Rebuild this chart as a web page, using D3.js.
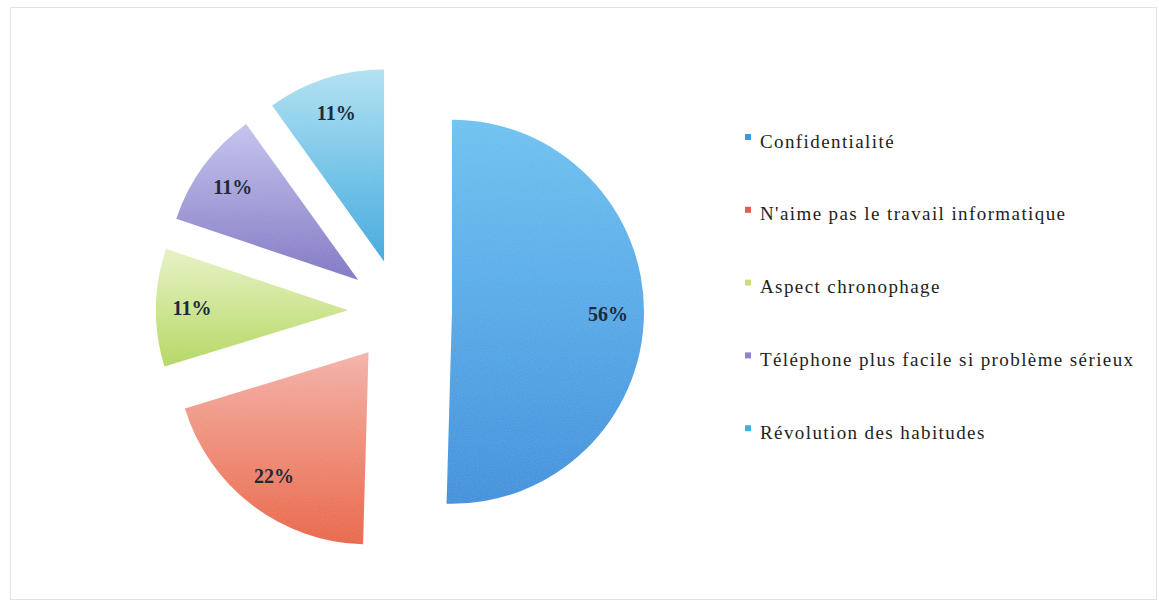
<!DOCTYPE html>
<html>
<head>
<meta charset="utf-8">
<script src="https://cdn.jsdelivr.net/npm/d3@7"></script>
<style>
  html, body { margin: 0; padding: 0; background: #ffffff; }
  svg { display: block; }
</style>
</head>
<body>
<svg id="chart" width="1159" height="608"></svg>
<script>
// ---- data ----
const categories = [
  "Confidentialité",
  "N'aime pas le travail informatique",
  "Aspect chronophage",
  "Téléphone plus facile si problème sérieux",
  "Révolution des habitudes"
];
const values = [56, 22, 11, 11, 11];
const valueLabels = ["56%", "22%", "11%", "11%", "11%"];

// ---- styles ----
const colorsTop    = ["#66c0f0", "#f4b0a6", "#e6f2c4", "#c2c2ec", "#b0e0f2"];
const colorsBottom = ["#2a8cdc", "#e85c36", "#b2d656", "#7a70c2", "#2ea6dc"];
const legendColors = ["#3a9ae0", "#e06050", "#c8e080", "#8c86c8", "#40b0e0"];

const svg = d3.select("#chart");

// frame
svg.append("rect")
  .attr("x", 10.5).attr("y", 7.5)
  .attr("width", 1146).attr("height", 592)
  .attr("fill", "#ffffff")
  .attr("stroke", "#e2e2e2").attr("stroke-width", 1);

// gradients
const defs = svg.append("defs");
categories.forEach((c, i) => {
  const g = defs.append("linearGradient")
    .attr("id", "grad" + i)
    .attr("x1", 0).attr("y1", 0).attr("x2", 0).attr("y2", 1);
  g.append("stop").attr("offset", "0%").attr("stop-color", colorsTop[i]);
  g.append("stop").attr("offset", "100%").attr("stop-color", colorsBottom[i]);
});

// grain filter
const f = defs.append("filter").attr("id", "grain")
  .attr("x", "0%").attr("y", "0%").attr("width", "100%").attr("height", "100%");
f.append("feTurbulence").attr("type", "fractalNoise").attr("baseFrequency", 0.9)
  .attr("numOctaves", 1).attr("seed", 3).attr("result", "noise");
f.append("feColorMatrix").attr("in", "noise").attr("type", "matrix")
  .attr("values", "0 0 0 0 1  0 0 0 0 1  0 0 0 0 1  0 0 0 0.10 0").attr("result", "wn");
f.append("feComposite").attr("in", "wn").attr("in2", "SourceGraphic").attr("operator", "in").attr("result", "wn2");
const fm = f.append("feMerge");
fm.append("feMergeNode").attr("in", "SourceGraphic");
fm.append("feMergeNode").attr("in", "wn2");

// pie
const cx = 400, cy = 311;
const radius = 192;
const explode = 52;
const labelR = 156;

const pie = d3.pie().sort(null).value(d => d)(values);
const arc = d3.arc().innerRadius(0).outerRadius(radius);

const g = svg.append("g").attr("transform", `translate(${cx},${cy})`);

const slices = g.selectAll("g.slice").data(pie).enter().append("g")
  .attr("class", "slice")
  .attr("transform", d => {
    const a = (d.startAngle + d.endAngle) / 2;
    return `translate(${Math.sin(a) * explode},${-Math.cos(a) * explode})`;
  });

slices.append("path")
  .attr("d", arc)
  .attr("fill", (d, i) => `url(#grad${i})`)
  .attr("filter", "url(#grain)");

slices.append("text")
  .attr("x", d => Math.sin((d.startAngle + d.endAngle) / 2) * labelR)
  .attr("y", d => -Math.cos((d.startAngle + d.endAngle) / 2) * labelR)
  .attr("text-anchor", "middle")
  .attr("dominant-baseline", "central")
  .attr("font-family", "'Liberation Serif', 'Times New Roman', serif")
  .attr("font-weight", "bold")
  .attr("font-size", 20)
  .attr("fill", "#1e2a3a")
  .text((d, i) => valueLabels[i]);

// legend
const legend = svg.append("g").attr("transform", "translate(745,141)");
const rowH = 72.8;
const items = legend.selectAll("g").data(categories).enter().append("g")
  .attr("transform", (d, i) => `translate(0,${i * rowH})`);
items.append("rect")
  .attr("x", 0).attr("y", -7).attr("width", 6).attr("height", 6)
  .attr("fill", (d, i) => legendColors[i]);
items.append("text")
  .attr("x", 15).attr("y", 0)
  .attr("dominant-baseline", "central")
  .attr("font-family", "'Liberation Serif', 'Times New Roman', serif")
  .attr("font-size", 19)
  .attr("letter-spacing", 1.4)
  .attr("fill", "#1e1e1e")
  .text(d => d);
</script>
</body>
</html>
